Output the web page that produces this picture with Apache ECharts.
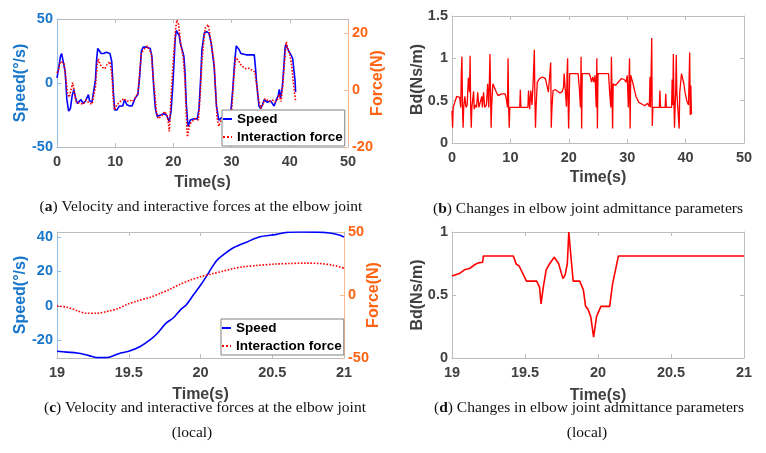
<!DOCTYPE html>
<html>
<head>
<meta charset="utf-8">
<script src="https://cdn.jsdelivr.net/npm/echarts@6/dist/echarts.min.js"></script>
<style>
html,body{margin:0;padding:0;background:#fff}
#main{width:766px;height:453px}
</style>
</head>
<body>
<div id="main"></div>
<script>
// (a) whole run: time(s), speed(deg/s)
const speedA = [[0,4],[0.3,12],[0.6,21],[0.8,23],[1.1,22],[1.4,9],[1.7,-13],[2.0,-22],[2.3,-20],[2.6,-10],[2.9,-5],[3.2,-12],[3.5,-16],[3.8,-15],[4.1,-13],[4.5,-16],[4.9,-14],[5.2,-13],[5.4,-9],[5.6,-14],[6.0,-15],[6.3,-15],[6.6,2],[6.8,18],[7.0,27],[7.3,25],[7.6,23],[8.0,23],[8.5,24],[9.1,23],[9.4,17],[9.7,-8],[9.9,-21],[10.3,-21],[10.7,-18],[11.0,-17],[11.3,-18],[11.6,-13],[12.0,-17],[12.5,-18],[12.9,-18],[13.4,-12],[13.9,-9],[14.2,5],[14.5,25],[14.8,28],[15.5,28],[16.0,27],[16.3,21],[16.6,-2],[16.9,-20],[17.2,-26],[17.8,-25],[18.3,-24],[18.8,-25],[19.0,-27],[19.3,-30],[19.6,-22],[19.9,-2],[20.1,15],[20.3,34],[20.5,41],[20.8,42],[21.0,37],[21.2,31],[21.5,26],[21.8,21],[22.0,8],[22.2,-15],[22.5,-34],[22.9,-29],[23.5,-28],[24.1,-28],[24.4,-20],[24.7,5],[24.9,26],[25.3,39],[25.7,40],[26.1,39],[26.5,31],[27.0,13],[27.4,-18],[27.8,-29],[28.3,-27],[28.8,-28],[29.3,-27],[29.8,-26],[30.2,-5],[30.5,15],[30.8,29],[31.3,26],[31.6,23],[32.5,22],[33.5,22],[33.9,22],[34.1,12],[34.3,0],[34.7,-18],[35.0,-20],[35.3,-17],[35.6,-13],[36.1,-15],[36.7,-14],[37.0,-16],[37.3,-18],[37.7,-13],[38.0,-10],[38.2,-5],[38.4,-12],[38.7,-4],[38.9,8],[39.2,28],[39.3,30],[39.7,26],[40.2,22],[40.5,19],[40.7,10],[40.9,2],[41.0,-7]];
// (a) interaction force(N)
const forceA = [[0,6],[0.3,7.5],[0.6,10],[0.9,10.5],[1.2,9.5],[1.5,4.5],[1.8,-1],[2.1,-2.5],[2.4,0],[2.7,2.6],[3.0,-1],[3.3,-4],[3.7,-4.5],[4.0,-4],[4.5,-5],[5.0,-3.5],[5.5,-4.5],[6.0,-5],[6.3,-4.5],[6.6,1],[6.9,9],[7.1,11],[7.4,9],[7.8,8],[8.2,7.5],[8.6,9],[9.1,10],[9.4,6],[9.7,-4],[9.9,-7],[10.3,-5],[10.7,-4.5],[11.1,-3.5],[11.5,-3],[12.0,-4],[12.5,-3.5],[13.0,-4],[13.5,-2.5],[13.9,-1],[14.2,6],[14.5,13],[15.0,14.5],[15.5,15.5],[15.8,16],[16.2,13],[16.5,5],[16.8,-1],[17.1,-8],[17.4,-10],[18.0,-9],[18.5,-7.5],[18.9,-9],[19.1,-11],[19.3,-14.5],[19.6,-2],[19.9,8],[20.2,16.5],[20.4,22],[20.6,24.6],[20.9,23],[21.1,19],[21.3,15.5],[21.7,11.5],[22.0,3],[22.2,-8],[22.4,-16.5],[22.7,-13],[23.0,-11.5],[23.7,-10],[24.3,-10.5],[24.6,-2],[24.9,10],[25.2,17],[25.5,22],[26.0,23],[26.3,19],[26.6,15],[27.0,9.5],[27.3,-2],[27.5,-9.5],[27.8,-12.7],[28.2,-10.5],[28.8,-10],[29.5,-10],[30.0,-8],[30.4,5],[30.7,11.5],[31.0,11],[31.3,10],[31.7,8.5],[32.0,8.2],[32.5,7.5],[33.0,7.7],[33.5,7],[34.0,6.4],[34.3,2],[34.6,-3],[35.0,-6.4],[35.4,-5],[35.7,-3],[36.0,-3.5],[36.5,-4],[37.0,-3.5],[37.5,-4.2],[38.0,-3],[38.2,-1.5],[38.5,-4],[38.8,2],[39.1,10],[39.4,17],[39.6,15],[40.0,12.5],[40.3,9],[40.6,3],[41.0,-4]];
// (b) admittance Bd(Ns/m)
const bdB = [[0,0.38],[0.1,0.18],[0.2,0.42],[0.5,0.42],[0.8,0.55],[1.0,0.57],[1.3,0.54],[1.5,0.42],[1.6,0.84],[1.7,1.02],[1.8,0.42],[1.9,0.18],[2.0,0.42],[2.2,0.55],[2.4,0.42],[2.6,0.45],[2.8,0.77],[3.0,0.6],[3.1,1.03],[3.2,0.42],[3.3,0.18],[3.4,0.42],[3.7,0.61],[3.8,0.4],[4.0,0.45],[4.2,0.42],[4.4,0.6],[4.6,0.42],[4.9,0.43],[5.1,0.55],[5.2,0.42],[5.4,0.6],[5.6,0.42],[5.9,0.45],[6.1,0.7],[6.3,0.42],[6.5,1.05],[6.6,0.6],[6.7,0.18],[6.8,0.45],[7.0,0.7],[7.3,0.65],[7.6,0.6],[7.9,0.56],[8.2,0.54],[8.5,0.58],[8.8,0.57],[9.1,0.58],[9.3,0.52],[9.5,0.42],[9.6,1.0],[9.7,0.42],[9.8,0.18],[9.9,0.42],[11.6,0.42],[11.7,0.63],[11.8,0.42],[13.0,0.42],[13.1,0.62],[13.3,0.4],[13.5,0.62],[13.7,0.45],[13.9,0.72],[14.1,1.1],[14.2,0.5],[14.3,0.18],[14.4,0.42],[14.6,0.72],[15.0,0.76],[15.5,0.78],[16.0,0.76],[16.3,0.75],[16.5,0.6],[16.8,0.58],[16.9,0.95],[17.0,0.18],[17.1,0.4],[17.3,0.62],[17.7,0.63],[18.0,0.62],[18.5,0.59],[18.9,0.61],[19.1,0.66],[19.2,0.82],[19.4,0.81],[19.6,0.43],[19.7,0.81],[19.8,1.0],[19.85,0.61],[19.97,0.17],[20.05,0.41],[20.15,0.82],[21.6,0.82],[21.8,0.65],[22.0,0.42],[22.1,1.02],[22.2,0.17],[22.3,0.82],[23.5,0.82],[23.7,0.78],[23.9,0.72],[24.1,0.78],[24.3,0.72],[24.5,0.8],[24.7,0.42],[24.8,1.0],[24.9,0.17],[25.0,0.82],[26.8,0.82],[27.0,0.6],[27.2,0.42],[27.3,1.02],[27.5,0.17],[27.6,0.7],[28.0,0.68],[28.5,0.72],[29.0,0.76],[29.5,0.75],[29.8,0.72],[30.0,0.8],[30.2,0.42],[30.4,1.0],[30.5,0.17],[30.6,0.8],[31.0,0.7],[31.5,0.55],[32.0,0.48],[32.5,0.46],[33.0,0.44],[33.5,0.47],[33.8,0.43],[33.9,0.78],[34.0,0.42],[34.2,1.24],[34.3,0.2],[34.4,0.42],[35.5,0.42],[35.6,0.62],[35.7,0.42],[36.5,0.42],[36.6,0.58],[36.7,0.42],[37.6,0.42],[37.7,0.75],[37.8,0.45],[37.9,1.05],[38.0,0.5],[38.1,0.18],[38.2,0.42],[38.3,0.6],[38.4,1.04],[38.5,0.6],[38.9,0.17],[39.0,0.6],[39.3,0.82],[39.5,0.82],[39.7,0.7],[39.9,0.6],[40.2,0.5],[40.5,0.45],[40.7,1.07],[40.8,0.33],[40.9,0.68],[41.0,0.34]];
// (c) local window 19-21 s
const speedC = [[19.0,-26.3],[19.07,-26.8],[19.14,-27.3],[19.2,-28.3],[19.24,-29.2],[19.28,-30],[19.33,-30],[19.37,-29.6],[19.43,-27.7],[19.5,-26.3],[19.58,-23.5],[19.65,-19.6],[19.7,-15.8],[19.76,-10],[19.81,-7],[19.86,-2.3],[19.9,0.6],[19.95,6.3],[20.0,12],[20.04,17],[20.09,23.7],[20.12,27],[20.17,30.4],[20.23,33.8],[20.32,37],[20.41,40],[20.53,41.5],[20.6,42.7],[20.69,42.9],[20.81,42.8],[20.9,42.3],[20.96,41.3],[21.0,40]];
const forceC = [[19.0,-8.7],[19.07,-9.7],[19.14,-12.4],[19.2,-14.5],[19.28,-14.5],[19.35,-13],[19.42,-11],[19.49,-7.4],[19.56,-4.7],[19.65,-1.8],[19.72,1.3],[19.79,4.7],[19.86,8.7],[19.93,11.8],[20.0,14.5],[20.09,17],[20.16,19],[20.23,21],[20.3,22.4],[20.39,23.4],[20.51,24.5],[20.62,25],[20.73,25.3],[20.83,25],[20.92,23.7],[21.0,21.3]];
// (d) local Bd
const bdD = [[19.0,0.65],[19.05,0.67],[19.085,0.70],[19.12,0.71],[19.155,0.74],[19.18,0.755],[19.21,0.76],[19.215,0.81],[19.42,0.81],[19.44,0.745],[19.46,0.73],[19.51,0.61],[19.58,0.61],[19.6,0.56],[19.61,0.43],[19.625,0.56],[19.645,0.70],[19.67,0.75],[19.7,0.80],[19.71,0.81],[19.73,0.75],[19.76,0.63],[19.775,0.66],[19.79,0.75],[19.8,1.0],[19.815,0.8],[19.83,0.61],[19.875,0.61],[19.9,0.54],[19.915,0.41],[19.93,0.39],[19.95,0.33],[19.97,0.166],[19.99,0.33],[20.02,0.41],[20.08,0.41],[20.1,0.59],[20.14,0.81],[21.0,0.81]];

const forceTicksA = [-20, 0, 20];
const speedTicksC = [-20, 0, 20, 40];
const legendNames = ['Speed', 'Interaction force'];
const captions = [
  ['a', 'Velocity and interactive forces at the elbow joint'],
  ['b', 'Changes in elbow joint admittance parameters'],
  ['c', 'Velocity and interactive forces at the elbow joint'],
  ['d', 'Changes in elbow joint admittance parameters']
];

const sans = '"Liberation Sans", Arial, sans-serif';
const serif = '"Liberation Serif", "Times New Roman", serif';
const gray = '#404040';
const box = '#BDBDBD';
const blueTxt = '#1877CC', blueLine = '#8DBEE8';
const orgTxt = '#FF6414', orgLine = '#FDB98C';

const lbl = (color) => ({fontFamily: sans, fontWeight: 'bold', fontSize: 14.5, color: color});
const nm = (color) => ({fontFamily: sans, fontWeight: 'bold', fontSize: 16, color: color});

function xBottom(g, min, max, step, gap) {
  return {type: 'value', gridIndex: g, position: 'bottom', min: min, max: max, interval: step,
    name: 'Time(s)', nameLocation: 'middle', nameGap: gap, nameMoveOverlap: false, nameTextStyle: nm(gray),
    axisLine: {show: true, onZero: false, lineStyle: {color: box}},
    axisTick: {inside: true, length: 4, lineStyle: {color: box}},
    axisLabel: Object.assign({margin: 7}, lbl(gray)),
    splitLine: {show: false}};
}
function xTop(g, min, max, step) {
  return {type: 'value', gridIndex: g, position: 'top', min: min, max: max, interval: step,
    axisLine: {show: true, onZero: false, lineStyle: {color: box}},
    axisTick: {inside: true, length: 4, lineStyle: {color: box}},
    axisLabel: {show: false}, splitLine: {show: false}};
}
function yAx(g, pos, min, max, opts) {
  const o = {type: 'value', gridIndex: g, position: pos, min: min, max: max,
    axisLine: {show: true, onZero: false, lineStyle: {color: opts.line}},
    axisTick: {show: true, inside: true, length: 4, lineStyle: {color: opts.line}},
    axisLabel: Object.assign({show: opts.label !== false, margin: 4}, lbl(opts.txt)),
    splitLine: {show: false}};
  if (opts.interval) o.interval = opts.interval;
  if (opts.ticks) {
    o.axisLabel.customValues = opts.ticks;
    o.axisTick.customValues = opts.ticks;
  }
  if (opts.name) {
    o.name = opts.name; o.nameLocation = 'middle'; o.nameRotate = 90;
    o.nameGap = opts.gap; o.nameMoveOverlap = false; o.nameTextStyle = nm(opts.txt);
  }
  return o;
}

const grids = [
  {left: 57, top: 19, width: 291, height: 128},
  {left: 452, top: 16, width: 292, height: 127},
  {left: 57, top: 232, width: 287, height: 126},
  {left: 452, top: 232, width: 292, height: 126}
];

function legendAt(left, top) {
  return {data: legendNames, orient: 'vertical', left: left, top: top,
    backgroundColor: '#fff', borderColor: '#808080', borderWidth: 1,
    padding: [1, 2, 1, 0], itemGap: 2, itemWidth: 9, itemHeight: 10,
    itemStyle: {opacity: 0},
    textStyle: {fontFamily: sans, fontWeight: 'bold', fontSize: 13.5, color: '#000', lineHeight: 16},
    selectedMode: false};
}

function caption(x, y, i) {
  return {type: 'text', x: x, y: y,
    style: {text: '({b|' + captions[i][0] + '}) ' + captions[i][1], fill: '#111',
      font: '15.5px ' + serif, align: 'center', verticalAlign: 'middle',
      rich: {b: {fontFamily: serif, fontWeight: 'bold', fontSize: 15.5, fill: '#111'}}}};
}
function plain(x, y, t) {
  return {type: 'text', x: x, y: y,
    style: {text: t, fill: '#111', font: '15.5px ' + serif, align: 'center', verticalAlign: 'middle'}};
}

const chart = echarts.init(document.getElementById('main'));
chart.setOption({
  animation: false,
  backgroundColor: '#fff',
  grid: grids,
  xAxis: [
    xBottom(0, 0, 50, 10, 28), xTop(0, 0, 50, 10),
    xBottom(1, 0, 50, 10, 27), xTop(1, 0, 50, 10),
    xBottom(2, 19, 21, 0.5, 29), xTop(2, 19, 21, 0.5),
    xBottom(3, 19, 21, 0.5, 30), xTop(3, 19, 21, 0.5)
  ],
  yAxis: [
    yAx(0, 'left', -50, 50, {interval: 50, line: blueLine, txt: blueTxt, name: 'Speed(°/s)', gap: 28}),
    yAx(0, 'right', -20, 25, {ticks: forceTicksA, line: orgLine, txt: orgTxt, name: 'Force(N)', gap: 22}),
    yAx(1, 'left', 0, 1.5, {interval: 0.5, line: box, txt: gray, name: 'Bd(Ns/m)', gap: 26}),
    yAx(1, 'right', 0, 1.5, {interval: 0.5, line: box, txt: gray, label: false}),
    yAx(2, 'left', -30.2, 42.9, {ticks: speedTicksC, line: blueLine, txt: blueTxt, name: 'Speed(°/s)', gap: 28}),
    yAx(2, 'right', -50, 50, {interval: 50, line: orgLine, txt: orgTxt, name: 'Force(N)', gap: 22}),
    yAx(3, 'left', 0, 1, {interval: 0.5, line: box, txt: gray, name: 'Bd(Ns/m)', gap: 26}),
    yAx(3, 'right', 0, 1, {interval: 0.5, line: box, txt: gray, label: false})
  ],
  legend: [legendAt(222, 110), legendAt(221, 319)],
  series: [
    {type: 'line', name: 'Speed', xAxisIndex: 0, yAxisIndex: 0, data: speedA, symbol: 'none',
      lineStyle: {color: '#0000FF', width: 1.6}, itemStyle: {color: '#0000FF'}},
    {type: 'line', name: 'Interaction force', xAxisIndex: 0, yAxisIndex: 1, data: forceA, symbol: 'none',
      lineStyle: {color: '#FF0000', width: 1.6, type: 'dotted'}, itemStyle: {color: '#FF0000'}},
    {type: 'line', name: 'Bd', xAxisIndex: 2, yAxisIndex: 2, data: bdB, symbol: 'none',
      lineStyle: {color: '#FF0000', width: 1.3}, itemStyle: {color: '#FF0000'}},
    {type: 'line', name: 'Speed', xAxisIndex: 4, yAxisIndex: 4, data: speedC, symbol: 'none', smooth: 0.3,
      lineStyle: {color: '#0000FF', width: 1.6}, itemStyle: {color: '#0000FF'}},
    {type: 'line', name: 'Interaction force', xAxisIndex: 4, yAxisIndex: 5, data: forceC, symbol: 'none', smooth: 0.3,
      lineStyle: {color: '#FF0000', width: 1.6, type: 'dotted'}, itemStyle: {color: '#FF0000'}},
    {type: 'line', name: 'Bd local', xAxisIndex: 6, yAxisIndex: 6, data: bdD, symbol: 'none',
      lineStyle: {color: '#FF0000', width: 1.6}, itemStyle: {color: '#FF0000'}}
  ],
  graphic: [
    caption(201, 207, 0),
    caption(588, 209, 1),
    caption(205, 408, 2),
    plain(192, 433, '(local)'),
    caption(589, 408, 3),
    plain(587, 433, '(local)')
  ]
});
</script>
</body>
</html>
